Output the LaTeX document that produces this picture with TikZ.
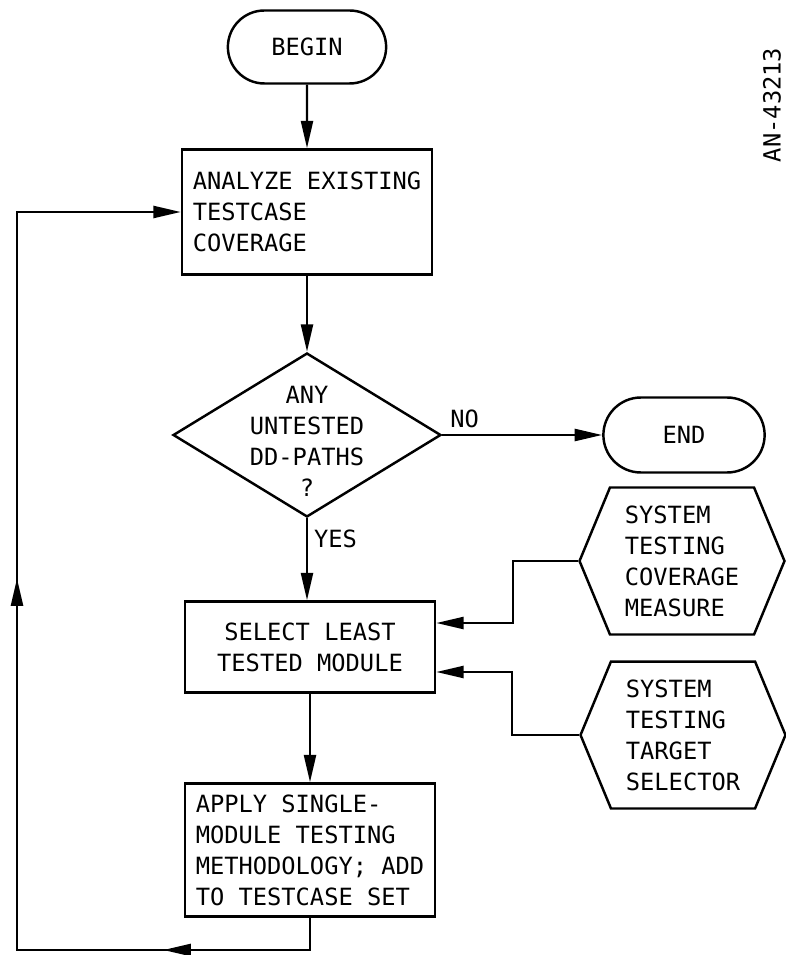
\documentclass[tikz,border=0pt]{standalone}
\usepackage{fontspec}
\newfontfamily\chartfont{DejaVu Sans Mono}
\usetikzlibrary{arrows.meta}
\usetikzlibrary{decorations.markings}
\usetikzlibrary{shapes.geometric, shapes.misc, shapes.symbols}

\tikzset{
  txt/.style={font=\chartfont\fontsize{13.5pt}{17.6pt}\selectfont},
  tip/.tip={Triangle[length=5.5mm,width=2.4mm]},
  flowline/.style={line width=1.4pt, -tip},
  terminal/.style={txt, draw, line width=1.4pt, rounded rectangle, minimum width=3.4cm, minimum height=1.46cm},
  process/.style={txt, draw, line width=1.4pt, rectangle, minimum width=5cm},
  decision/.style={draw, line width=1.4pt, diamond, inner sep=0pt, minimum width=5.36cm, minimum height=3.28cm},
  measure/.style={txt, draw, line width=1.4pt, signal, signal to=east and west, signal pointer angle=135, align=left, minimum width=4.1cm, minimum height=2.94cm}
}

\begin{document}
\begin{tikzpicture}[x=0.02cm, y=-0.02cm]
\useasboundingbox (0,0) rectangle (786,955);

%boxes:
\node[terminal] (begin) at (307,47) {BEGIN};
\node[process, align=left, minimum height=2.5cm] (analyze) at (307,212) {ANALYZE EXISTING\\TESTCASE\\COVERAGE};
\node[decision] (untested) at (307,435) {};
\node[txt, align=center] (untestedq) at (307,441) {ANY\\UNTESTED\\DD-PATHS\\?};
\node[terminal, minimum width=3.46cm, minimum height=1.5cm] (end) at (684,435) {END};
\node[process, align=center, minimum height=1.82cm] (select) at (310,647) {SELECT LEAST\\TESTED MODULE};
\node[process, align=left, minimum height=2.66cm] (apply) at (310,850) {APPLY SINGLE-\\MODULE TESTING\\METHODOLOGY; ADD\\TO TESTCASE SET};
\node[measure] (coverage) at (682,561) {SYSTEM\\TESTING\\COVERAGE\\MEASURE};
\node[measure] (target) at (683,735) {SYSTEM\\TESTING\\TARGET\\SELECTOR};
\node[txt, rotate=90] (drawingno) at (772,105) {AN-43213};

%arrows:
\draw[flowline] (begin) -- (analyze);
\draw[flowline] (analyze) -- (untested);
\draw[flowline] (untested.east) -- node[txt, above, pos=0.14] (no) {NO} (end);
\draw[flowline] (untested.south) -- node[txt, right, pos=0.25] (yes) {YES} (untested.south |- select.north);
\draw[flowline] (select) -- (apply);

%inputs
\draw[flowline] (coverage.west) -- ++(-65,0) |- ([yshift=0.48cm]select.east);
\draw[flowline] (target.west) -- ++(-67,0) |- ([yshift=-0.5cm]select.east);

%loop back
\coordinate (loopcorner) at (17,950);
\draw[flowline, postaction={decorate}, decoration={markings,
  mark=at position 3.58cm with {\arrow{tip}},
  mark=at position 13.94cm with {\arrow{tip}}}]
  (apply.south) |- (loopcorner) |- (analyze.west);
\end{tikzpicture}
\end{document}
